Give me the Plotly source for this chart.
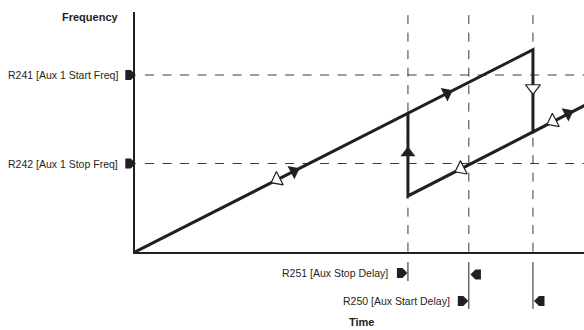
import plotly.graph_objects as go

_INK = "#231f20"
_DASH = "#3a3a3a"
_FONT = "Liberation Sans, Arial, sans-serif"

# frequency levels and time events
START_FREQ = 60.0
STOP_FREQ = 30.0
FREQ_LABELS = ["R241 [Aux 1 Start Freq]", "R242 [Aux 1 Stop Freq]"]
T_STOP_EVENT = 10.0
T_STOP_DELAY_END = 12.23
T_START_DELAY_END = 14.58
T_MAX = 16.45
F_MAX = 81.36

# frequency path: ramp up, continue on upper line, drop, continue on lower line
path_t = [0.0, 10.0, 14.58, 14.58, 16.6]
path_f = [0.0, 47.1, 68.6, 40.7, 50.3]
# return leg: vertical at stop event, lower line back to the drop point
loop_t = [10.0, 10.0, 14.58]
loop_f = [47.1, 19.0, 40.7]

# arrowheads along the path
filled_t = [5.82, 11.43, 15.86, 10.0]
filled_f = [27.4, 53.8, 47.0, 33.6]
filled_ang = [63, 63, 63, 0]
hollow_t = [5.2, 11.94, 15.31, 14.58]
hollow_f = [24.5, 28.2, 44.3, 55.6]
hollow_ang = [63, 63, 63, 0]

DELAY_LABELS = ["R251 [Aux Stop Delay]", "R250 [Aux Start Delay]"]

_PTR_R = "M-5,-5 H0.5 L5.5,0 L0.5,5 H-5 Z"
_PTR_L = "M5,-5 H-0.5 L-5.5,0 L-0.5,5 H5 Z"

fig = go.Figure()

for f in [START_FREQ, STOP_FREQ]:
    fig.add_trace(go.Scatter(
        x=[0.37, T_MAX], y=[f, f], mode="lines",
        line=dict(color=_DASH, width=1, dash="9px,8.5px"),
        hoverinfo="skip",
    ))
for t in [T_STOP_EVENT, T_STOP_DELAY_END, T_START_DELAY_END]:
    fig.add_trace(go.Scatter(
        x=[t, t], y=[80.3, 0], mode="lines",
        line=dict(color=_DASH, width=1, dash="9px,8.5px"),
        hoverinfo="skip",
    ))

fig.add_trace(go.Scatter(
    x=path_t, y=path_f, mode="lines",
    line=dict(color=_INK, width=3),
))
fig.add_trace(go.Scatter(
    x=loop_t, y=loop_f, mode="lines",
    line=dict(color=_INK, width=3),
))
fig.add_trace(go.Scatter(
    x=filled_t, y=filled_f, mode="markers",
    marker=dict(symbol="triangle-up", angle=filled_ang, size=13, color=_INK,
                line=dict(width=0)),
))
fig.add_trace(go.Scatter(
    x=hollow_t, y=hollow_f, mode="markers",
    marker=dict(symbol="triangle-down", angle=hollow_ang, size=13, color="white",
                line=dict(width=1.2, color=_INK)),
))

# block pointers next to the frequency labels
for f in [START_FREQ, STOP_FREQ]:
    fig.add_shape(type="path", xref="paper", yref="y", xsizemode="pixel", ysizemode="pixel",
                  xanchor=-0.0105, yanchor=f, path=_PTR_R,
                  fillcolor=_INK, line=dict(width=0))

# delay pointers and bracket ticks below the time axis
for t, y, p in [(T_STOP_EVENT - 0.22, -0.0875, _PTR_R), (T_STOP_DELAY_END + 0.26, -0.094, _PTR_L),
                (T_STOP_DELAY_END - 0.22, -0.204, _PTR_R), (T_START_DELAY_END + 0.24, -0.204, _PTR_L)]:
    fig.add_shape(type="path", xref="x", yref="paper", xsizemode="pixel", ysizemode="pixel",
                  xanchor=t, yanchor=y, path=p, fillcolor=_INK, line=dict(width=0))
for t, y1 in [(T_STOP_EVENT, -0.121), (T_STOP_DELAY_END, -0.2375), (T_START_DELAY_END, -0.2375)]:
    fig.add_shape(type="line", xref="x", yref="paper", x0=t, x1=t, y0=-0.042, y1=y1,
                  line=dict(color=_INK, width=1))

for label, f in zip(FREQ_LABELS, [START_FREQ, STOP_FREQ]):
    fig.add_annotation(
        text=label, xref="paper", yref="y", x=-0.033, y=f,
        xanchor="right", yanchor="middle", showarrow=False,
        font=dict(size=10.5, color=_INK, family=_FONT),
    )
fig.add_annotation(
    text="<b>Frequency</b>", xref="paper", yref="paper", x=-0.032, y=0.979,
    xanchor="right", yanchor="middle", showarrow=False,
    font=dict(size=11, color=_INK, family=_FONT),
)
fig.add_annotation(
    text=DELAY_LABELS[0], xref="x", yref="paper", x=T_STOP_EVENT - 0.66, y=-0.0875,
    xanchor="right", yanchor="middle", showarrow=False,
    font=dict(size=10.5, color=_INK, family=_FONT),
)
fig.add_annotation(
    text=DELAY_LABELS[1], xref="x", yref="paper", x=T_STOP_DELAY_END - 0.6, y=-0.204,
    xanchor="right", yanchor="middle", showarrow=False,
    font=dict(size=10.5, color=_INK, family=_FONT),
)
fig.add_annotation(
    text="<b>Time</b>", xref="x", yref="paper", x=7.75, y=-0.292,
    xanchor="left", yanchor="middle", showarrow=False,
    font=dict(size=11, color=_INK, family=_FONT),
)

fig.update_layout(
    width=584, height=330,
    paper_bgcolor="white", plot_bgcolor="white",
    showlegend=False,
    margin=dict(l=135, r=0, t=12, b=78),
    xaxis=dict(range=[0, T_MAX], showgrid=False, zeroline=False, showticklabels=False,
               ticks="", showline=True, linecolor=_INK, linewidth=2),
    yaxis=dict(range=[0, F_MAX], showgrid=False, zeroline=False, showticklabels=False,
               ticks="", showline=True, linecolor=_INK, linewidth=2),
)

# drop the default 8px page margin so the figure fills the window exactly
fig.write_html("out.html", config={"displayModeBar": False},
               post_script="document.body.style.margin='0';")
